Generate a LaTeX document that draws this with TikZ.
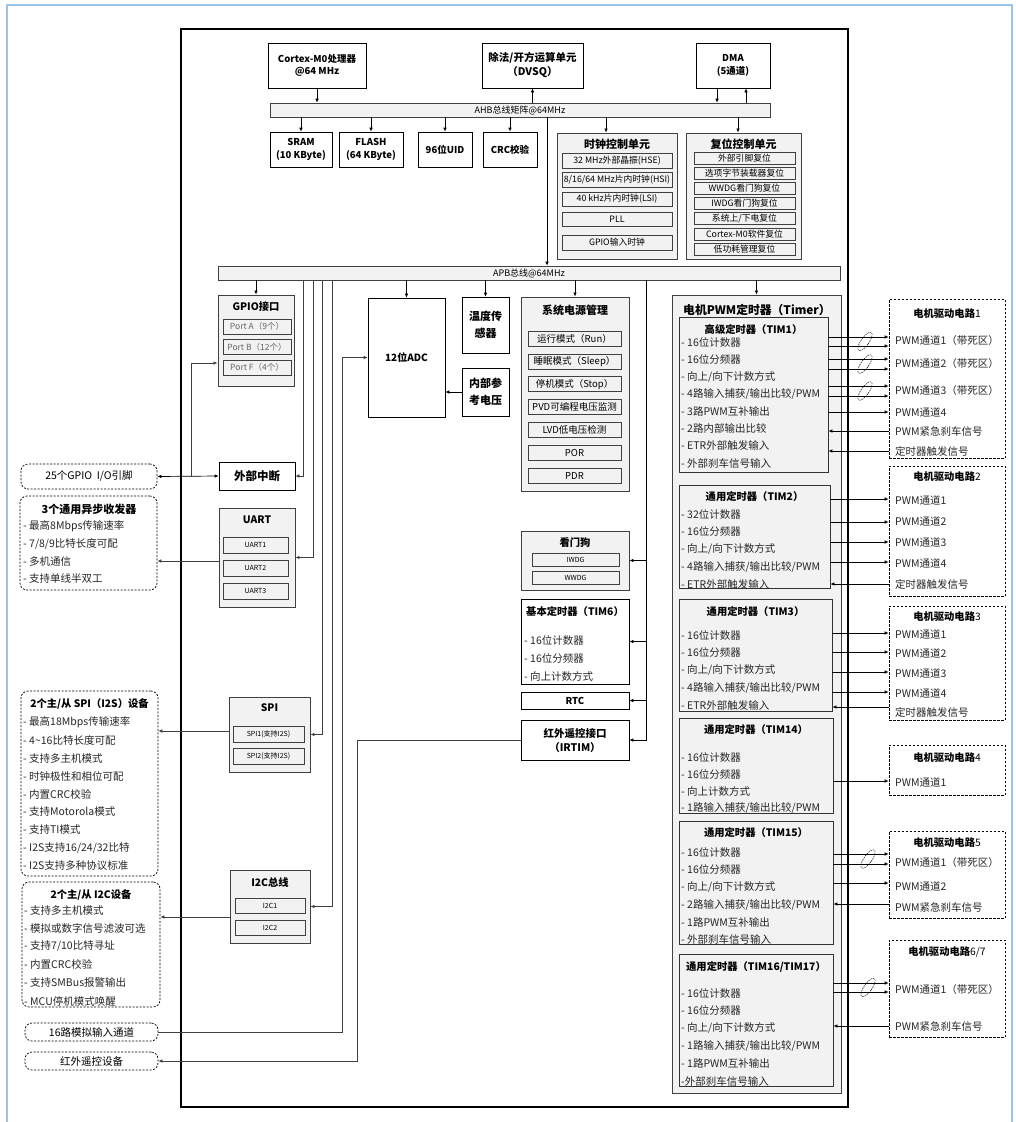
\documentclass[tikz,border=0pt]{standalone}
\usepackage{fontspec}
\setmainfont{Noto Sans CJK SC}
\usetikzlibrary{arrows.meta,calc}

\definecolor{boxgray}{HTML}{F2F2F2}
\definecolor{linegray}{HTML}{404040}
\definecolor{frameblue}{HTML}{9DC3E6}

\begin{document}
\begin{tikzpicture}[
    % GLOBAL CFG
    x=1pt, y=-1pt,
    >={Latex[length=4pt,width=3.6pt]},
    % Styles
    blk/.style={% white blocks
        rectangle, draw, fill=white, line width=0.7pt, inner sep=1pt, align=center,
        font=\fontsize{9.5}{12.5}\selectfont\bfseries,
        },
    grp/.style={% grey group boxes
        rectangle, draw=linegray, fill=boxgray, line width=0.9pt, inner sep=0pt,
        },
    sub/.style={% small boxes inside a group
        rectangle, draw=linegray, fill=boxgray, line width=0.7pt, inner sep=0pt,
        font=\fontsize{8.8}{10}\selectfont,
        },
    bus/.style={% AHB and APB
        rectangle, draw=linegray, fill=boxgray, line width=0.7pt, inner sep=0pt,
        font=\fontsize{9}{10}\selectfont,
        },
    dev/.style={% external devices
        rectangle, rounded corners=7pt, draw, dash pattern=on 2pt off 1.5pt,
        line width=0.7pt, inner sep=0pt,
        },
    drv/.style={% motor drivers
        rectangle, draw, dash pattern=on 2.5pt off 1.5pt, line width=0.7pt, inner sep=0pt,
        },
    ttl/.style={% titles
        font=\fontsize{10.3}{12}\selectfont\bfseries, inner sep=0pt,
        },
    itm/.style={% list lines
        anchor=west, font=\fontsize{10.5}{12}\selectfont, inner sep=0pt, text=black!85,
        },
    arr/.style={->, line width=0.7pt},
    garr/.style={->, line width=0.7pt, draw=linegray},
    pair/.style={dash pattern=on 1.5pt off 1pt, line width=0.5pt},
    ]
\useasboundingbox (0,0) rectangle (1015,1122);

% frame and chip
\draw[frameblue, line width=1.2pt] (7,1122) -- (7,5) -- (1012,5) -- (1012,1122);
\node[rectangle, draw, line width=1.6pt, minimum width=667pt, minimum height=1078pt, inner sep=0pt] (chip) at (514.5,568) {};

% Core and AHB
\node[blk, minimum width=98pt, minimum height=45pt] (cpu) at (317,65.5) {Cortex-M0处理器\\@64 MHz};
\node[blk, minimum width=101pt, minimum height=45pt, font=\fontsize{10.5}{14}\selectfont\bfseries] (dvsq) at (532.5,65.5) {除法/开方运算单元\\（DVSQ）};
\node[blk, minimum width=74pt, minimum height=45pt] (dma) at (733,65.5) {DMA\\(5通道)};
\node[bus, minimum width=500pt, minimum height=14pt] (ahb) at (520,110) {AHB总线矩阵@64MHz};

\node[blk, minimum width=62pt, minimum height=35pt] (sram) at (301,149.5) {SRAM\\(10 KByte)};
\node[blk, minimum width=64pt, minimum height=35pt] (flash) at (371,149.5) {FLASH\\(64 KByte)};
\node[blk, minimum width=54pt, minimum height=35pt] (uid) at (445,149.5) {96位UID};
\node[blk, minimum width=54pt, minimum height=35pt] (crc) at (510,149.5) {CRC校验};

% clock control
\node[grp, minimum width=120pt, minimum height=126pt] (clk) at (617,196) {};
\node[ttl, font=\fontsize{11}{12}\selectfont\bfseries] (clkt) at (617,144) {时钟控制单元};
\node[sub, minimum width=110pt, minimum height=15pt] (hse) at (617,160.5) {32 MHz外部晶振(HSE)};
\node[sub, minimum width=110pt, minimum height=15pt] (hsi) at (617,179.5) {8/16/64 MHz片内时钟(HSI)};
\node[sub, minimum width=110pt, minimum height=14pt] (lsi) at (617,199) {40 kHz片内时钟(LSI)};
\node[sub, minimum width=110pt, minimum height=14pt] (pll) at (617,219) {PLL};
\node[sub, minimum width=110pt, minimum height=15pt] (gclk) at (617,242.5) {GPIO输入时钟};

% reset control
\node[grp, minimum width=115pt, minimum height=126pt] (rst) at (743.5,196) {};
\node[ttl, font=\fontsize{11}{12}\selectfont\bfseries] (rstt) at (743.5,144) {复位控制单元};
\foreach \t [count=\i from 0] in {外部引脚复位, 选项字节装载器复位, WWDG看门狗复位, IWDG看门狗复位, 系统上/下电复位, Cortex-M0软件复位, 低功耗管理复位}
    \node[sub, minimum width=101pt, minimum height=12pt] (rst\i) at (744.5,158+15.2*\i) {\t};

% APB
\node[bus, minimum width=622pt, minimum height=14pt] (apb) at (529,273) {APB总线@64MHz};

% GPIO and EXTI
\node[grp, minimum width=76pt, minimum height=91pt] (gpio) at (256,340.5) {};
\node[ttl] (gpiot) at (256,307) {GPIO接口};
\foreach \t [count=\i from 0] in {Port A（9个）, Port B（12个）, Port F（4个）}
    \node[sub, minimum width=68pt, minimum height=15pt, text=black!60, font=\fontsize{8.5}{10}\selectfont] (port\i) at (257,326.5+20.5*\i) {\t};
\node[blk, minimum width=76pt, minimum height=28pt, font=\fontsize{11.5}{12}\selectfont\bfseries] (exti) at (257,476) {外部中断};

% UART, SPI, I2C
\node[grp, minimum width=76pt, minimum height=99pt] (uart) at (257,557.5) {};
\node[ttl] (uartt) at (257,520) {UART};
\foreach \i in {1,2,3}
    \node[sub, minimum width=65pt, minimum height=16pt, font=\fontsize{7}{8}\selectfont] (uart\i) at (255.5,545+23*\i-23) {UART\i};

\node[grp, minimum width=81pt, minimum height=75pt] (spi) at (269.5,734.5) {};
\node[ttl] (spit) at (269.5,708) {SPI};
\foreach \i in {1,2}
    \node[sub, minimum width=71pt, minimum height=16pt, font=\fontsize{7}{8}\selectfont] (spi\i) at (268.5,734+22*\i-22) {SPI\i(支持I2S)};

\node[grp, minimum width=80pt, minimum height=73pt] (i2c) at (270,906.5) {};
\node[ttl] (i2ct) at (270,883) {I2C总线};
\foreach \i in {1,2}
    \node[sub, minimum width=70pt, minimum height=15pt, font=\fontsize{7}{8}\selectfont] (i2c\i) at (270,905.5+22.5*\i-22.5) {I2C\i};

% ADC
\node[blk, minimum width=77pt, minimum height=119pt, font=\fontsize{10}{12}\selectfont\bfseries] (adc) at (406.5,357.5) {12位ADC};
\node[blk, minimum width=47pt, minimum height=56pt, font=\fontsize{11}{17}\selectfont\bfseries] (temp) at (485.5,325) {温度传\\感器};
\node[blk, minimum width=47pt, minimum height=48pt, font=\fontsize{11}{17}\selectfont\bfseries] (vref) at (485.5,392) {内部参\\考电压};

% power
\node[grp, minimum width=108pt, minimum height=194pt] (pwr) at (575,394) {};
\node[ttl, font=\fontsize{11}{12}\selectfont\bfseries] (pwrt) at (575,310) {系统电源管理};
\foreach \t [count=\i from 0] in {运行模式（Run）, 睡眠模式（Sleep）, 停机模式（Stop）, PVD可编程电压监测, LVD低电压检测, POR, PDR}
    \node[sub, minimum width=93pt, minimum height=15pt, font=\fontsize{9.5}{10}\selectfont] (pwr\i) at (574.5,338.5+22.9*\i) {\t};

% watchdog, TIM6, RTC, IR
\node[grp, minimum width=108pt, minimum height=59pt] (wdg) at (575,560.5) {};
\node[ttl] (wdgt) at (575,543) {看门狗};
\node[sub, minimum width=87pt, minimum height=13pt, font=\fontsize{7}{8}\selectfont] (iwdg) at (575.5,559.5) {IWDG};
\node[sub, minimum width=87pt, minimum height=13pt, font=\fontsize{7}{8}\selectfont] (wwdg) at (575.5,577.5) {WWDG};

\node[blk, minimum width=108pt, minimum height=85pt] (tim6) at (575,641.5) {};
\node[ttl] (tim6t) at (575,612) {基本定时器（TIM6）};
\foreach \t [count=\i from 0] in {- 16位计数器, - 16位分频器, - 向上计数方式}
    \node[itm] (tim6i\i) at (524,640+18*\i) {\t};
\node[blk, minimum width=108pt, minimum height=17pt] (rtc) at (575,700.5) {RTC};
\node[blk, minimum width=108pt, minimum height=40pt, font=\fontsize{10.5}{14}\selectfont\bfseries] (irtim) at (575,740) {红外遥控接口\\（IRTIM）};

% Timer block
\node[grp, minimum width=169pt, minimum height=798pt] (timer) at (756.5,694) {};
\node[ttl, anchor=west, font=\fontsize{11.8}{13}\selectfont\bfseries] (timert) at (683,310) {电机PWM定时器（Timer）};

\node[grp, draw=black!80, minimum width=149pt, minimum height=155pt] (tim1) at (753.5,394.5) {};
\node[ttl] (tim1t) at (753.5,330) {高级定时器（TIM1）};
\foreach \t [count=\i from 0] in {- 16位计数器, - 16位分频器, - 向上/向下计数方式, - 4路输入捕获/输出比较/PWM, - 3路PWM互补输出, - 2路内部输出比较, - ETR外部触发输入, - 外部刹车信号输入}
    \node[itm] (tim1i\i) at (681,342+17.3*\i) {\t};

\node[grp, draw=black!80, minimum width=151pt, minimum height=103pt] (tim2) at (754.5,536.5) {};
\node[ttl] (tim2t) at (754.5,497) {通用定时器（TIM2）};
\foreach \t [count=\i from 0] in {- 32位计数器, - 16位分频器, - 向上/向下计数方式, - 4路输入捕获/输出比较/PWM, - ETR外部触发输入}
    \node[itm] (tim2i\i) at (681,514+17.6*\i) {\t};

\node[grp, draw=black!80, minimum width=153pt, minimum height=112pt] (tim3) at (755.5,655) {};
\node[ttl] (tim3t) at (755.5,612) {通用定时器（TIM3）};
\foreach \t [count=\i from 0] in {- 16位计数器, - 16位分频器, - 向上/向下计数方式, - 4路输入捕获/输出比较/PWM, - ETR外部触发输入}
    \node[itm] (tim3i\i) at (681,635+17.6*\i) {\t};

\node[grp, draw=black!80, minimum width=154pt, minimum height=95pt] (tim14) at (756,765.5) {};
\node[ttl] (tim14t) at (756,730) {通用定时器（TIM14）};
\foreach \t [count=\i from 0] in {- 16位计数器, - 16位分频器, - 向上计数方式, - 1路输入捕获/输出比较/PWM}
    \node[itm] (tim14i\i) at (681,757+17*\i) {\t};

\node[grp, draw=black!80, minimum width=154pt, minimum height=123pt] (tim15) at (756,882.5) {};
\node[ttl] (tim15t) at (756,833) {通用定时器（TIM15）};
\foreach \t [count=\i from 0] in {- 16位计数器, - 16位分频器, - 向上/向下计数方式, - 2路输入捕获/输出比较/PWM, - 1路PWM互补输出, - 外部刹车信号输入}
    \node[itm] (tim15i\i) at (681,852+17.5*\i) {\t};

\node[grp, draw=black!80, minimum width=154pt, minimum height=132pt] (tim16) at (756,1020) {};
\node[ttl] (tim16t) at (756,967) {通用定时器（TIM16/TIM17）};
\foreach \t [count=\i from 0] in {- 16位计数器, - 16位分频器, - 向上/向下计数方式, - 1路输入捕获/输出比较/PWM, - 1路PWM互补输出, -外部刹车信号输入}
    \node[itm] (tim16i\i) at (681,993+17.6*\i) {\t};

% Motor drivers
\node[drv, minimum width=116pt, minimum height=159pt] (drv1) at (947,378.5) {};
\node[ttl] (drv1t) at (947,314) {电机驱动电路{\mdseries 1}};
\node[itm] (d1c1) at (895,341) {PWM通道1（带死区）};
\node[itm] (d1c2) at (895,364) {PWM通道2（带死区）};
\node[itm] (d1c3) at (895,391) {PWM通道3（带死区）};
\node[itm] (d1c4) at (895,412) {PWM通道4};
\node[itm] (d1bk) at (895,431) {PWM紧急刹车信号};
\node[itm] (d1tr) at (895,451) {定时器触发信号};

\node[drv, minimum width=116pt, minimum height=130pt] (drv2) at (947,531) {};
\node[ttl] (drv2t) at (947,477) {电机驱动电路{\mdseries 2}};
\foreach \t [count=\i from 0] in {PWM通道1, PWM通道2, PWM通道3, PWM通道4, 定时器触发信号}
    \node[itm] (d2c\i) at (895,500+21.2*\i) {\t};

\node[drv, minimum width=116pt, minimum height=114pt] (drv3) at (947,663) {};
\node[ttl] (drv3t) at (947,617) {电机驱动电路{\mdseries 3}};
\foreach \t [count=\i from 0] in {PWM通道1, PWM通道2, PWM通道3, PWM通道4, 定时器触发信号}
    \node[itm] (d3c\i) at (895,634+19.7*\i) {\t};

\node[drv, minimum width=116pt, minimum height=50pt] (drv4) at (947,770) {};
\node[ttl] (drv4t) at (947,758) {电机驱动电路{\mdseries 4}};
\node[itm] (d4c0) at (895,782) {PWM通道1};

\node[drv, minimum width=116pt, minimum height=87pt] (drv5) at (947,874.5) {};
\node[ttl] (drv5t) at (947,843) {电机驱动电路{\mdseries 5}};
\node[itm] (d5c0) at (895,862) {PWM通道1（带死区）};
\node[itm] (d5c1) at (895,886) {PWM通道2};
\node[itm] (d5bk) at (895,907) {PWM紧急刹车信号};

\node[drv, minimum width=116pt, minimum height=97pt] (drv6) at (947,988.5) {};
\node[ttl] (drv6t) at (947,952) {电机驱动电路{\mdseries 6/7}};
\node[itm] (d6c0) at (895,989) {PWM通道1（带死区）};
\node[itm] (d6bk) at (895,1026) {PWM紧急刹车信号};

% External devices
\node[dev, minimum width=136pt, minimum height=25pt, font=\fontsize{10.5}{12}\selectfont] (pins) at (89,476.5) {25个GPIO\ \ I/O引脚};

\node[dev, minimum width=137pt, minimum height=94pt] (usart) at (88.5,543) {};
\node[ttl, font=\fontsize{11}{12}\selectfont\bfseries] (usartt) at (89,509) {3个通用异步收发器};
\foreach \t [count=\i from 0] in {- 最高8Mbps传输速率, - 7/8/9比特长度可配, - 多机通信, - 支持单线半双工}
    \node[itm] (usarti\i) at (23,526+17.6*\i) {\t};

\node[dev, minimum width=137pt, minimum height=185pt] (spidev) at (89.5,783.5) {};
\node[ttl] (spidevt) at (89.5,704) {2个主/从 SPI（I2S）设备};
\foreach \t [count=\i from 0] in {- 最高18Mbps传输速率, - 4\textasciitilde16比特长度可配, - 支持多主机模式, - 时钟极性和相位可配, - 内置CRC校验, - 支持Motorola模式, - 支持TI模式, - I2S支持16/24/32比特, - I2S支持多种协议标准}
    \node[itm] (spidevi\i) at (23,722+18*\i) {\t};

\node[dev, minimum width=138pt, minimum height=125pt] (i2cdev) at (91,944.5) {};
\node[ttl] (i2cdevt) at (91,895) {2个主/从 I2C设备};
\foreach \t [count=\i from 0] in {- 支持多主机模式, - 模拟或数字信号滤波可选, - 支持7/10比特寻址, - 内置CRC校验, - 支持SMBus报警输出, - MCU停机模式唤醒}
    \node[itm] (i2cdevi\i) at (24,910+18.2*\i) {\t};

\node[dev, minimum width=133pt, minimum height=18pt, font=\fontsize{10.5}{12}\selectfont] (ain) at (91.5,1032) {16路模拟输入通道};
\node[dev, minimum width=133pt, minimum height=18pt, font=\fontsize{10.5}{12}\selectfont] (irdev) at (91.5,1061) {红外遥控设备};

% AHB connections
\draw[arr] (cpu.south) -- (cpu.south |- ahb.north);
\draw[arr] (dvsq.south |- ahb.north) -- (dvsq.south);
\draw[arr] (dma.south -| 717,0) -- (ahb.north -| 717,0);
\draw[arr] (ahb.north -| 746,0) -- (dma.south -| 746,0);
\foreach \n in {sram, flash, uid, crc}
    \draw[arr] (ahb.south -| \n.north) -- (\n.north);
\draw[arr] (ahb.south -| 606,0) -- (clk.north -| 606,0);
\draw[arr] (ahb.south -| 738,0) -- (rst.north -| 738,0);
\draw[arr] (ahb.south -| 547,0) -- (apb.north -| 547,0);

% APB connections
\draw[arr] (apb.south -| gpio.north) -- (gpio.north);
\draw[garr] (apb.south -| 303,0) |- (exti.east);
\draw[garr] (apb.south -| 313,0) |- (uart.east);
\draw[garr] (apb.south -| 322,0) |- (spi.east);
\draw[garr] (apb.south -| 332,0) |- (i2c.east);
\draw[arr] (apb.south -| adc.north) -- (adc.north);
\draw[arr] (apb.south -| temp.north) -- (temp.north);
\draw[arr] (vref.west) -- (adc.east |- vref.west);
\draw[arr] (apb.south -| pwr.north) -- (pwr.north);
\draw[arr] (apb.south -| 646,0) |- (irtim.east);
\foreach \n in {wdg, tim6, rtc}
    \draw[arr] (\n.east -| 646,0) -- (\n.east);
\draw[arr] (apb.south -| timer.north) -- (timer.north);

% External connections
\draw[arr, <->] (pins.east) -- (exti.west);
\draw[garr] (pins.east -| 191,0) |- (gpio.west |- 0,363);
\draw[garr] (uart.west |- 0,561) -- (usart.east |- 0,561);
\draw[garr] (spi.west |- 0,731) -- (spidev.east |- 0,731);
\draw[garr] (i2c.west |- 0,917) -- (i2cdev.east |- 0,917);
\draw[garr] (ain.east) -| ([xshift=-25pt]adc.west) -- (adc.west);
\draw[garr] (irtim.west) -- (irtim.west -| 357,0) |- (irdev.east);

% Timer to drivers
\foreach \y in {337,346,359,369,386,396,412}
    \draw[arr] (tim1.east |- 0,\y) -- (drv1.west |- 0,\y);
\foreach \y in {431,451}
    \draw[arr] (drv1.west |- 0,\y) -- (tim1.east |- 0,\y);
\foreach \y in {341.5,364,391}
    \draw[pair, rotate around={-35:(865,\y)}] (865,\y) ellipse [x radius=4pt, y radius=11pt];

\foreach \y in {499,522,542,562}
    \draw[arr] (tim2.east |- 0,\y) -- (drv2.west |- 0,\y);
\draw[arr] (drv2.west |- 0,584) -- (tim2.east |- 0,584);

\foreach \y in {633,652,672,692}
    \draw[arr] (tim3.east |- 0,\y) -- (drv3.west |- 0,\y);
\draw[arr] (drv3.west |- 0,707) -- (tim3.east |- 0,707);

\draw[arr] (tim14.east |- 0,781) -- (drv4.west |- 0,781);

\foreach \y in {854,864,883}
    \draw[arr] (tim15.east |- 0,\y) -- (drv5.west |- 0,\y);
\draw[arr] (drv5.west |- 0,904) -- (tim15.east |- 0,904);
\draw[pair, rotate around={-35:(868,859)}] (868,859) ellipse [x radius=4pt, y radius=11pt];

\foreach \y in {983,992}
    \draw[arr] (tim16.east |- 0,\y) -- (drv6.west |- 0,\y);
\draw[arr] (drv6.west |- 0,1026) -- (tim16.east |- 0,1026);
\draw[pair, rotate around={-35:(868,987.5)}] (868,987.5) ellipse [x radius=4pt, y radius=11pt];

\end{tikzpicture}
\end{document}
